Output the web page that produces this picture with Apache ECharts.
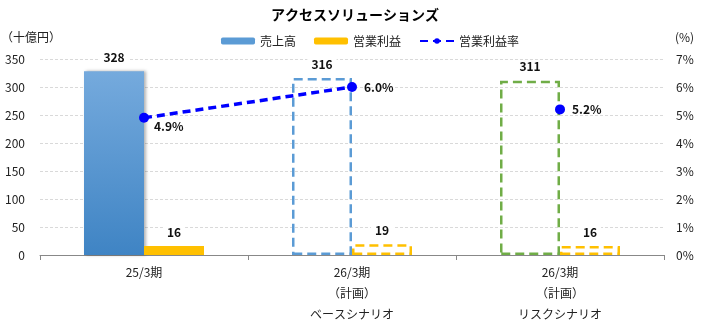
<!DOCTYPE html>
<html>
<head>
<meta charset="utf-8">
<script src="https://cdn.jsdelivr.net/npm/echarts@6/dist/echarts.min.js"></script>
<style>html,body{margin:0;padding:0;background:#fff}#c{width:710px;height:330px}</style>
</head>
<body>
<div id="c"></div>
<script>
const categories = ['25/3期', '26/3期\n（計画）\nベースシナリオ', '26/3期\n（計画）\nリスクシナリオ'];
const sales = [328, 316, 311];
const opProfit = [16, 19, 16];
const opMargin = [4.9, 6.0, 5.2];
const leftTicks = [0, 350, 50];
const rightTicks = [0, 7, 1];

const FONT = '"Noto Sans CJK JP", "Noto Sans", sans-serif';
const salesOutline = ['#5b9bd5', '#5b9bd5', '#70ad47'];
const dash = [9, 5];

const salesData = sales.map((v, i) => i === 0 ? {
  value: v,
  itemStyle: {
    color: new echarts.graphic.LinearGradient(0, 0, 0, 1, [
      {offset: 0, color: '#75aadd'}, {offset: 1, color: '#3f84c4'}]),
    shadowColor: 'rgba(0,0,0,0.3)', shadowBlur: 3, shadowOffsetX: 2
  }
} : {
  value: v,
  itemStyle: {color: 'rgba(0,0,0,0)', borderColor: salesOutline[i], borderWidth: 2.5, borderType: dash}
});
const opData = opProfit.map((v, i) => i === 0 ? {
  value: v, itemStyle: {color: '#ffc000'}
} : {
  value: v, itemStyle: {color: 'rgba(0,0,0,0)', borderColor: '#ffc000', borderWidth: 2.5, borderType: dash}
});
const lineData = opMargin.map((v, i) => i < 2 ? v : '-');
const pointData = opMargin.map((v, i) => i === 2 ? v : '-');
const marginLabelOffset = [[-2, 9], [0, 0], [0, 0]];

const barLabel = {
  show: true, position: 'top', distance: 8, color: '#111', fontWeight: 'bold',
  fontSize: 12, fontFamily: FONT, backgroundColor: '#fff', padding: [0, 4]
};
const lineLabel = {
  show: true, position: 'right', distance: 7, color: '#111', fontWeight: 'bold',
  fontSize: 12, fontFamily: FONT, formatter: p => p.value.toFixed(1) + '%'
};

const chart = echarts.init(document.getElementById('c'));
chart.setOption({
  animation: false,
  textStyle: {fontFamily: FONT},
  title: {
    text: 'アクセスソリューションズ', left: 350, textAlign: 'center', top: 3,
    textStyle: {fontSize: 14, fontWeight: 'bold', color: '#000', fontFamily: FONT}
  },
  legend: {
    data: ['売上高', '営業利益', '営業利益率'], left: 216, top: 30,
    itemWidth: 34, itemHeight: 7, itemGap: 18,
    textStyle: {fontSize: 12, color: '#222', fontFamily: FONT}
  },
  grid: {left: 40, right: 46, top: 59, bottom: 75, containLabel: false, outerBoundsMode: 'none'},
  xAxis: {
    type: 'category', data: categories,
    axisLine: {lineStyle: {color: '#888'}},
    axisTick: {show: true, length: 5, lineStyle: {color: '#888'}},
    axisLabel: {color: '#222', fontSize: 12, lineHeight: 21, margin: 7, fontFamily: FONT}
  },
  yAxis: [{
    type: 'value', min: leftTicks[0], max: leftTicks[1], interval: leftTicks[2],
    name: '（十億円）', nameLocation: 'end', nameGap: 16,
    nameTextStyle: {color: '#222', fontSize: 12, align: 'right', padding: [0, -21, 0, 0], fontFamily: FONT},
    axisLine: {show: false}, axisTick: {show: false},
    axisLabel: {color: '#222', fontSize: 12, margin: 15, fontFamily: FONT},
    splitLine: {lineStyle: {color: '#d9d9d9', type: [3, 2]}}
  }, {
    type: 'value', min: rightTicks[0], max: rightTicks[1], interval: rightTicks[2],
    name: '(%)', nameLocation: 'end', nameGap: 16,
    nameTextStyle: {color: '#222', fontSize: 12, align: 'left', padding: [0, 0, 0, 11], fontFamily: FONT},
    axisLine: {show: false}, axisTick: {show: false},
    axisLabel: {color: '#222', fontSize: 12, margin: 12, formatter: '{value}%', fontFamily: FONT},
    splitLine: {show: false}
  }],
  series: [{
    name: '売上高', type: 'bar', data: salesData, barWidth: 60, barGap: '0%',
    label: barLabel,
    itemStyle: {color: '#5b9bd5'}
  }, {
    name: '営業利益', type: 'bar', data: opData, barWidth: 60,
    label: barLabel,
    itemStyle: {color: '#ffc000'}
  }, {
    name: '営業利益率', type: 'line', yAxisIndex: 1, data: lineData.map((v, i) => ({value: v, label: {offset: marginLabelOffset[i]}})),
    symbol: 'circle', symbolSize: 10, connectNulls: false,
    lineStyle: {color: '#0000ff', width: 3.5, type: [8, 5]},
    itemStyle: {color: '#0000ff'},
    label: lineLabel, z: 5
  }, {
    name: '営業利益率', type: 'line', yAxisIndex: 1, data: pointData,
    symbol: 'circle', symbolSize: 10,
    lineStyle: {color: '#0000ff', width: 3.5, type: [8, 5]},
    itemStyle: {color: '#0000ff'},
    label: lineLabel, z: 5
  }]
});
</script>
</body>
</html>
